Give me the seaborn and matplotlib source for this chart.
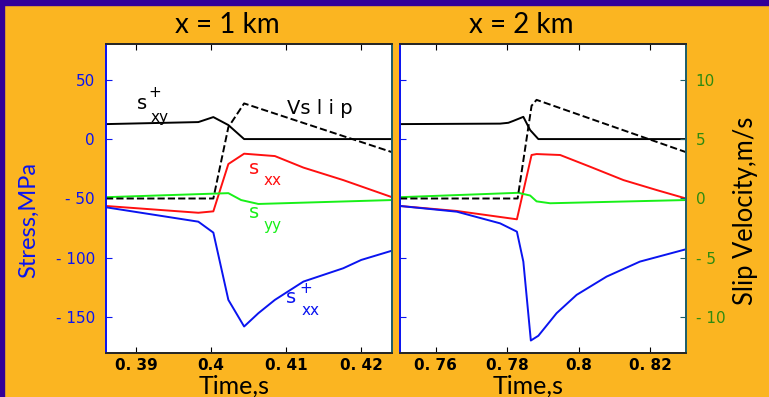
import numpy as np
import pandas as pd
import matplotlib
matplotlib.use("Agg")
import matplotlib.pyplot as plt
from matplotlib.patches import Rectangle
import seaborn as sns

# ---- data (time in s, stress in MPa, slip velocity in m/s) ----
# x = 1 km
t1_sxy = [0.3860, 0.3983, 0.4003, 0.4023, 0.4044, 0.4241]
sxy_1 = [12.6, 14.3, 18.5, 11.8, 0.0, 0.0]

t1_v = [0.3860, 0.4003, 0.4023, 0.4044, 0.4241]
vslip_1 = [0.0, 0.0, 6.0, 8.0, 3.9]

t1_sxx = [0.3860, 0.3983, 0.4003, 0.4023, 0.4044, 0.4085, 0.4123, 0.4176, 0.4241]
sxx_1 = [-56.3, -62.0, -60.8, -21.0, -12.3, -14.3, -24.0, -34.5, -48.9]

t1_syy = [0.3860, 0.4023, 0.4040, 0.4063, 0.4241]
syy_1 = [-48.9, -45.5, -51.3, -54.6, -51.3]

t1_sxxp = [0.3860, 0.3983, 0.4003, 0.4023, 0.4044, 0.4063, 0.4085, 0.4123,
           0.4176, 0.4200, 0.4241]
sxxp_1 = [-57.4, -69.5, -78.7, -135.3, -157.7, -146.5, -135.3, -119.9,
          -108.7, -101.7, -93.9]

# x = 2 km
t2_sxy = [0.7500, 0.7780, 0.7803, 0.7817, 0.7845, 0.7864, 0.7887, 0.8300]
sxy_2 = [12.6, 13.0, 13.7, 15.3, 18.7, 7.6, 0.0, 0.0]

t2_v = [0.7500, 0.7829, 0.7868, 0.7882, 0.8300]
vslip_2 = [0.0, 0.0, 7.8, 8.3, 3.9]

t2_sxx = [0.7500, 0.7659, 0.7827, 0.7868, 0.7882, 0.7948, 0.8032, 0.8125,
          0.8218, 0.8300]
sxx_2 = [-56.3, -60.5, -67.5, -13.4, -12.6, -13.4, -23.3, -34.5, -42.9, -50.0]

t2_syy = [0.7500, 0.7831, 0.7864, 0.7882, 0.7920, 0.8300]
syy_2 = [-48.9, -45.2, -47.5, -52.4, -54.0, -51.3]

t2_sxxp = [0.7500, 0.7659, 0.7780, 0.7827, 0.7845, 0.7866, 0.7887, 0.7938,
           0.7994, 0.8078, 0.8171, 0.8300]
sxxp_2 = [-56.3, -61.1, -70.9, -77.9, -103.1, -169.5, -165.5, -146.5,
          -131.1, -115.7, -103.1, -92.7]

stress_ticks = [-150, -100, -50, 0, 50]
stress_labels = ["- 150", "- 100", "- 50", "0", "50"]
vel_ticks = [-10, -5, 0, 5, 10]
vel_labels = ["- 10", "- 5", "0", "5", "10"]
time_ticks_1 = [0.39, 0.40, 0.41, 0.42]
time_labels_1 = ["0. 39", "0.4", "0. 41", "0. 42"]
time_ticks_2 = [0.76, 0.78, 0.80, 0.82]
time_labels_2 = ["0. 76", "0. 78", "0.8", "0. 82"]

ORANGE = "#fbb521"
PURPLE = "#330099"
TEAL = "#1f5f6a"
BLUE = "#0a14f0"
RED = "#ff1010"
GREEN = "#18f018"
DGREEN = "#2e8a10"
W, H = 769, 397

sns.set_style("ticks")
plt.rcParams["font.family"] = ["DejaVu Sans"]
plt.rcParams["text.color"] = "black"
plt.rcParams["axes.labelcolor"] = "black"

fig = plt.figure(figsize=(W / 100, H / 100), dpi=100, facecolor=ORANGE)
fig.patches.append(Rectangle((0, 1 - 5 / H), 1, 5 / H, transform=fig.transFigure,
                             color=PURPLE, zorder=0))
fig.patches.append(Rectangle((0, 0), 4 / W, 1, transform=fig.transFigure,
                             color=PURPLE, zorder=0))

ax1 = fig.add_axes([106 / W, 1 - 353 / H, 286 / W, 309 / H])
ax2 = fig.add_axes([400 / W, 1 - 353 / H, 286 / W, 309 / H])


def panel(ax, ts, xlim, xticks, xlabels, title, show_right):
    (tsxy, sxy), (tv, v), (tsxx, sxx), (tsyy, syy), (tsxxp, sxxp) = ts
    sns.lineplot(x=tsxy, y=sxy, ax=ax, color="black", lw=1.4)
    sns.lineplot(x=tsxx, y=sxx, ax=ax, color=RED, lw=1.4)
    sns.lineplot(x=tsyy, y=syy, ax=ax, color=GREEN, lw=1.4)
    sns.lineplot(x=tsxxp, y=sxxp, ax=ax, color=BLUE, lw=1.4)
    ax.set_xlim(*xlim)
    ax.set_ylim(-180, 80)
    ax.set_facecolor("white")
    ax.set_xticks(xticks)
    ax.set_xticklabels(xlabels, fontsize=11, fontweight="bold")
    ax.set_yticks(stress_ticks)
    ax.tick_params(axis="both", direction="in", length=4, top=True, right=True,
                   colors="black")
    ax.tick_params(axis="y", colors=BLUE, labelsize=11, pad=8)
    ax.set_xlabel("Time,s", fontsize=18, family="Lato", color="black")
    ax.xaxis.set_label_coords(0.447, -0.07)
    ax.xaxis.label.set_va("top")
    ax.set_ylabel("")
    ax.text(0.425, 1.06, title, transform=ax.transAxes, fontsize=20, family="Lato",
            ha="center", va="center", color="black")
    ax.spines["left"].set_color(BLUE)
    ax.spines["right"].set_color(TEAL)
    for s in ax.spines.values():
        s.set_linewidth(1.3)

    tw = ax.twinx()
    sns.lineplot(x=tv, y=v, ax=tw, color="black", lw=1.4, ls="--")
    tw.set_ylim(-13, 13)
    tw.set_ylabel("")
    tw.set_yticks(vel_ticks)
    tw.spines["right"].set_color(TEAL)
    tw.spines["left"].set_color(BLUE)
    for s in tw.spines.values():
        s.set_linewidth(1.3)
    if show_right:
        tw.set_yticklabels(vel_labels)
        tw.tick_params(axis="y", direction="in", length=4, colors=TEAL,
                       labelcolor=DGREEN, labelsize=11, pad=7)
    else:
        tw.tick_params(axis="y", right=False, labelright=False)
    return tw


panel(ax1, [(t1_sxy, sxy_1), (t1_v, vslip_1), (t1_sxx, sxx_1), (t1_syy, syy_1),
            (t1_sxxp, sxxp_1)], (0.386, 0.4241), time_ticks_1, time_labels_1,
      "x = 1 km", False)
ax1.set_yticklabels(stress_labels)

tw2 = panel(ax2, [(t2_sxy, sxy_2), (t2_v, vslip_2), (t2_sxx, sxx_2), (t2_syy, syy_2),
                  (t2_sxxp, sxxp_2)], (0.75, 0.83), time_ticks_2, time_labels_2,
            "x = 2 km", True)
ax2.tick_params(axis="y", labelleft=False)

fig.text(28.5 / W, 1 - 219.5 / H, "Stress,MPa", rotation=90, fontsize=17,
         family="Lato", color=BLUE, ha="center", va="center")
fig.text(746 / W, 1 - 211 / H, "Slip Velocity,m/s", rotation=90, fontsize=18.4,
         family="Lato", color="black", ha="center", va="center")

# curve annotations (left panel)
ax1.text(0.3908, 30.3, "s", color="black", fontsize=14, ha="center", va="center")
ax1.text(0.39253, 39.5, "+", color="black", fontsize=11, ha="center", va="center")
ax1.text(0.39307, 18.0, "xy", color="black", fontsize=11, ha="center", va="center")
ax1.text(0.41453, 26.0, "Vs l i p", color="black", fontsize=14, ha="center", va="center")
ax1.text(0.40573, -24.4, "s", color=RED, fontsize=14, ha="center", va="center")
ax1.text(0.40813, -34.5, "xx", color=RED, fontsize=11, ha="center", va="center")
ax1.text(0.40573, -62.2, "s", color=GREEN, fontsize=14, ha="center", va="center")
ax1.text(0.40813, -73.1, "yy", color=GREEN, fontsize=11, ha="center", va="center")
ax1.text(0.41067, -133.6, "s", color=BLUE, fontsize=14, ha="center", va="center")
ax1.text(0.41267, -125.5, "+", color=BLUE, fontsize=11, ha="center", va="center")
ax1.text(0.4132, -144.5, "xx", color=BLUE, fontsize=11, ha="center", va="center")

fig.savefig("out.png", dpi=100, facecolor=ORANGE)
